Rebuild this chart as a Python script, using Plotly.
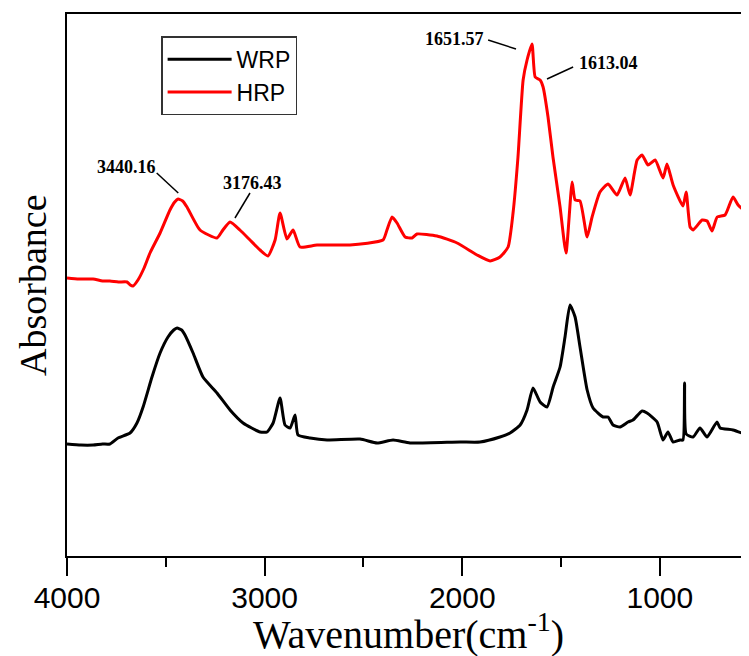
import plotly.graph_objects as go

# HRP (red) spectrum: wavenumber (cm-1) and absorbance (arb. units)
hrp_wn = [4000, 3940, 3868, 3820, 3783, 3740, 3696, 3680, 3666, 3641, 3610, 3580, 3529, 3479,
          3455, 3438, 3415, 3393, 3327, 3241, 3211, 3175, 3125, 3074, 3023, 2983, 2947, 2922,
          2887, 2856, 2821, 2735, 2568, 2401, 2381, 2355, 2330, 2289, 2254, 2229, 2128, 2026,
          1925, 1859, 1809, 1768, 1743, 1718, 1692, 1672, 1647, 1631, 1606, 1591, 1566, 1541,
          1505, 1475, 1444, 1429, 1404, 1368, 1343, 1303, 1262, 1217, 1176, 1151, 1115, 1090,
          1060, 1024, 984, 964, 933, 883, 867, 847, 832, 786, 761, 736, 710, 670, 630, 604, 549]
hrp_abs = [2.78, 2.77, 2.77, 2.75, 2.75, 2.74, 2.74, 2.71, 2.70, 2.76, 2.88, 3.03, 3.23, 3.46,
           3.54, 3.57, 3.55, 3.49, 3.26, 3.18, 3.26, 3.34, 3.26, 3.16, 3.06, 3.00, 3.16, 3.43,
           3.17, 3.26, 3.09, 3.11, 3.11, 3.16, 3.26, 3.39, 3.33, 3.19, 3.18, 3.22, 3.20, 3.13,
           3.01, 2.95, 2.99, 3.09, 3.43, 3.99, 4.76, 4.96, 5.12, 4.79, 4.76, 4.69, 4.39, 3.99,
           3.49, 3.03, 3.74, 3.56, 3.55, 3.19, 3.39, 3.64, 3.72, 3.61, 3.78, 3.61, 3.96, 4.01,
           3.91, 3.96, 3.78, 3.92, 3.71, 3.50, 3.64, 3.29, 3.26, 3.36, 3.35, 3.25, 3.39, 3.41,
           3.59, 3.51, 3.41]

# WRP (black) spectrum
wrp_wn = [4000, 3930, 3868, 3820, 3783, 3742, 3681, 3646, 3615, 3570, 3529, 3489, 3460, 3443,
          3420, 3403, 3362, 3312, 3241, 3175, 3109, 3023, 2988, 2957, 2922, 2897, 2871, 2846,
          2831, 2770, 2684, 2517, 2431, 2350, 2264, 2011, 1910, 1809, 1758, 1707, 1672, 1642,
          1606, 1571, 1540, 1505, 1480, 1455, 1429, 1404, 1368, 1338, 1287, 1262, 1237, 1201,
          1161, 1136, 1090, 1065, 1014, 984, 959, 933, 898, 883, 875, 867, 832, 797, 761, 711,
          695, 630, 559]
wrp_abs = [1.12, 1.11, 1.11, 1.12, 1.12, 1.18, 1.23, 1.33, 1.49, 1.79, 2.03, 2.19, 2.26, 2.28,
           2.26, 2.21, 2.03, 1.79, 1.63, 1.46, 1.33, 1.24, 1.24, 1.33, 1.58, 1.31, 1.28, 1.41,
           1.21, 1.18, 1.16, 1.17, 1.13, 1.16, 1.13, 1.14, 1.14, 1.19, 1.23, 1.31, 1.46, 1.68,
           1.54, 1.49, 1.69, 1.89, 2.19, 2.51, 2.39, 2.09, 1.66, 1.48, 1.39, 1.39, 1.31, 1.29,
           1.34, 1.36, 1.45, 1.43, 1.34, 1.16, 1.24, 1.14, 1.16, 1.16, 1.73, 1.22, 1.19, 1.28,
           1.19, 1.34, 1.28, 1.26, 1.21]

# Peak labels: text, text position, leader line start/end
peak_text = ["1651.57", "1613.04", "3440.16", "3176.43"]
peak_text_x = [2039, 1260, 3699, 3059]
peak_text_y = [5.17, 4.93, 3.89, 3.73]
lead_x0 = [1869, 1571, 3546, 3074]
lead_y0 = [5.16, 4.77, 3.83, 3.63]
lead_x1 = [1728, 1439, 3437, 3150]
lead_y1 = [5.07, 4.89, 3.63, 3.38]

x_ticks = [4000, 3000, 2000, 1000]

fig = go.Figure()
fig.add_trace(go.Scatter(x=wrp_wn, y=wrp_abs, mode="lines", name="WRP",
                         line=dict(color="black", width=3, shape="spline", smoothing=0.5)))
fig.add_trace(go.Scatter(x=hrp_wn, y=hrp_abs, mode="lines", name="HRP",
                         line=dict(color="#ff0000", width=3, shape="spline", smoothing=0.5)))

for t, tx, ty, x0, y0, x1, y1 in zip(peak_text, peak_text_x, peak_text_y,
                                      lead_x0, lead_y0, lead_x1, lead_y1):
    fig.add_annotation(x=tx, y=ty, text="<b>%s</b>" % t, showarrow=False,
                       font=dict(family="Liberation Serif", size=18, color="black"))
    fig.add_shape(type="line", x0=x0, y0=y0, x1=x1, y1=y1, xref="x", yref="y",
                  line=dict(color="black", width=1.5))

# Axis titles
fig.add_annotation(x=0.5, y=-0.14, xref="paper", yref="paper", yanchor="middle",
                   text="Wavenumber(cm<sup>-1</sup>)", showarrow=False,
                   font=dict(family="Liberation Serif", size=40, color="black"))
fig.add_annotation(x=-0.05, y=0.5, xref="paper", yref="paper", xanchor="center",
                   text="Absorbance", textangle=-90, showarrow=False,
                   font=dict(family="Liberation Serif", size=38, color="black"))

fig.update_layout(
    width=741, height=648,
    margin=dict(l=59, r=0, t=6, b=100, autoexpand=False),
    paper_bgcolor="white", plot_bgcolor="white",
    showlegend=True,
    legend=dict(x=0.138, y=0.959, xanchor="left", yanchor="top",
                bgcolor="white", bordercolor="#333", borderwidth=1.5,
                font=dict(family="Liberation Sans", size=23, color="black"),
                tracegroupgap=0, itemwidth=64),
    xaxis=dict(range=[4000, 549], tickvals=x_ticks, ticktext=[str(v) for v in x_ticks],
               automargin=False, ticklabelstandoff=-4,
               showgrid=False, zeroline=False, showline=True, linecolor="black", linewidth=2,
               mirror=True, ticks="outside", ticklen=18, tickwidth=2, tickcolor="black",
               minor=dict(dtick=500, ticks="outside", ticklen=9, tickwidth=2, tickcolor="black"),
               tickfont=dict(family="Liberation Sans", size=30, color="black")),
    yaxis=dict(range=[0, 5.42], showticklabels=False, ticks="", showgrid=False,
               automargin=False,
               zeroline=False, showline=True, linecolor="black", linewidth=2),
)

fig.write_html("out.html")
